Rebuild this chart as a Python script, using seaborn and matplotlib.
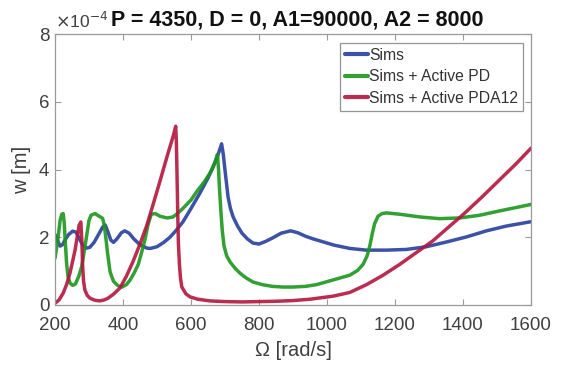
import numpy as np
import pandas as pd
import seaborn as sns
import matplotlib
matplotlib.use("Agg")
import matplotlib.pyplot as plt

# Frequency sweep results: displacement w in units of 1e-4 m
omega_sims = [200, 210, 215, 222, 230, 240, 252, 262, 272, 282, 292, 302, 315, 328, 340,
              348, 356, 364, 372, 382, 395, 405, 418, 432, 450, 470, 480, 500, 520, 538,
              556, 576, 600, 626, 650, 665, 680, 690, 695, 700, 709, 716, 724, 737, 750,
              766, 782, 800, 820, 840, 865, 893, 915, 937, 960, 990, 1020, 1067, 1116,
              1175, 1233, 1292, 1351, 1410, 1469, 1527, 1600]
w_sims = [2.08, 1.85, 1.74, 1.78, 1.93, 2.08, 2.18, 2.15, 1.95, 1.76, 1.68, 1.70, 1.85,
          2.08, 2.30, 2.36, 2.15, 1.92, 1.85, 1.95, 2.13, 2.19, 2.12, 1.95, 1.78, 1.68,
          1.67, 1.72, 1.85, 2.00, 2.20, 2.45, 2.85, 3.30, 3.75, 4.07, 4.45, 4.76, 4.45,
          3.98, 3.19, 2.85, 2.60, 2.33, 2.12, 1.95, 1.83, 1.80, 1.88, 1.98, 2.12, 2.19,
          2.13, 2.03, 1.95, 1.86, 1.77, 1.67, 1.62, 1.62, 1.64, 1.72, 1.86, 2.01, 2.19,
          2.33, 2.46]

omega_pd = [200, 208, 215, 220, 224, 227, 230, 234, 238, 244, 252, 260, 270, 279, 287,
            294, 300, 306, 318, 330, 340, 345, 350, 355, 362, 372, 385, 397, 410, 421,
            433, 445, 456, 465, 473, 483, 495, 509, 530, 547, 560, 576, 600, 617, 640,
            656, 670, 678, 681, 684, 688, 692, 697, 705, 715, 730, 744, 762, 782, 810,
            839, 870, 900, 937, 969, 1018, 1067, 1090, 1106, 1118, 1126, 1133, 1140,
            1150, 1162, 1175, 1214, 1273, 1331, 1390, 1449, 1508, 1557, 1600]
w_pd = [1.38, 1.90, 2.50, 2.68, 2.70, 2.45, 1.90, 1.25, 0.85, 0.65, 0.58, 0.62, 0.85,
        1.15, 1.65, 2.10, 2.50, 2.65, 2.70, 2.62, 2.56, 2.35, 1.95, 1.50, 0.98, 0.70,
        0.57, 0.53, 0.60, 0.74, 0.95, 1.20, 1.60, 1.95, 2.35, 2.68, 2.70, 2.62, 2.57,
        2.60, 2.70, 2.85, 3.10, 3.35, 3.65, 3.90, 4.20, 4.45, 4.00, 3.40, 2.75, 2.20,
        1.75, 1.45, 1.27, 1.08, 0.94, 0.80, 0.68, 0.60, 0.55, 0.53, 0.53, 0.55, 0.60,
        0.74, 0.88, 1.02, 1.20, 1.45, 1.75, 2.10, 2.40, 2.62, 2.70, 2.72, 2.68, 2.60,
        2.55, 2.57, 2.65, 2.78, 2.88, 2.97]

omega_pda = [200, 212, 224, 234, 244, 252, 259, 266, 271, 276, 279, 281, 284, 288, 295,
             303, 317, 332, 345, 356, 372, 391, 410, 429, 450, 470, 488, 510, 530, 548,
             555, 557, 559, 561, 563, 566, 569, 573, 585, 597, 620, 656, 700, 750, 800,
             850, 900, 950, 1018, 1067, 1116, 1165, 1214, 1263, 1287, 1312, 1361, 1390,
             1410, 1459, 1508, 1557, 1600]
w_pda = [0.05, 0.15, 0.35, 0.60, 0.94, 1.30, 1.62, 2.05, 2.36, 2.45, 1.90, 1.20, 0.70,
         0.44, 0.28, 0.20, 0.14, 0.12, 0.15, 0.20, 0.32, 0.50, 0.85, 1.27, 1.80, 2.35,
         2.95, 3.70, 4.40, 5.00, 5.28, 4.80, 3.80, 2.70, 1.80, 1.20, 0.80, 0.53, 0.33,
         0.24, 0.17, 0.12, 0.10, 0.09, 0.10, 0.11, 0.13, 0.17, 0.26, 0.37, 0.60, 0.88,
         1.20, 1.55, 1.72, 1.90, 2.33, 2.58, 2.76, 3.22, 3.70, 4.18, 4.63]

labels = ["Sims", "Sims + Active PD", "Sims + Active PDA12"]
colors = ["#263f9c", "#1c961c", "#b3163e"]

x_ticks = [200, 400, 600, 800, 1000, 1200, 1400, 1600]
y_ticks = [0, 2, 4, 6, 8]

frames = []
for name, om, w in zip(labels, [omega_sims, omega_pd, omega_pda], [w_sims, w_pd, w_pda]):
    frames.append(pd.DataFrame({"omega": om, "w": w, "series": name}))
df = pd.concat(frames, ignore_index=True)

sns.set_style("white")
plt.rcParams["font.family"] = ["Liberation Sans", "DejaVu Sans"]

fig = plt.figure(figsize=(5.67, 3.67), dpi=100)
ax = fig.add_axes([0.097, 0.169, 0.8395, 0.738])

sns.lineplot(data=df, x="omega", y="w", hue="series", hue_order=labels,
             palette=dict(zip(labels, colors)), estimator=None, sort=False,
             units="series", linewidth=2.5, alpha=0.9, ax=ax, legend=True)

ax.set_xlim(200, 1600)
ax.set_ylim(0, 8)
ax.set_xticks(x_ticks)
ax.set_yticks(y_ticks)
ax.set_xticklabels([str(t) for t in x_ticks])
ax.set_yticklabels([str(t) for t in y_ticks])

tick_col = "#404040"
spine_col = "#9a9a9a"
ax.tick_params(direction="in", length=4, width=0.8, color=spine_col,
               labelsize=13.5, labelcolor=tick_col, top=True, right=True,
               bottom=True, left=True)
ax.tick_params(axis="x", pad=9)
ax.tick_params(axis="y", pad=4)
for s in ax.spines.values():
    s.set_visible(True)
    s.set_color(spine_col)
    s.set_linewidth(0.9)

ax.set_xlabel("Ω [rad/s]", fontsize=14.5, color=tick_col, labelpad=5)
ax.set_ylabel("w [m]", fontsize=14.5, color=tick_col, labelpad=6)
ax.set_title("P = 4350, D = 0, A1=90000, A2 = 8000", fontsize=15.5,
             fontweight="bold", color="#111111", pad=6, x=0.508)
ax.text(0.0, 1.012, r"$\times$10$^{-4}$", transform=ax.transAxes, fontsize=12.5,
        color=tick_col, ha="left", va="bottom")

leg = ax.legend(loc="upper right", bbox_to_anchor=(0.983, 0.967), fontsize=11.3,
                frameon=True, fancybox=False, edgecolor="#7a7a7a", handlelength=1.45,
                handletextpad=0.1, borderpad=0.3, labelspacing=0.42, borderaxespad=0.0)
leg.get_frame().set_linewidth(0.9)
for line in leg.get_lines():
    line.set_linewidth(3.0)
for t in leg.get_texts():
    t.set_color("#333333")

fig.savefig("out.png", dpi=100)
